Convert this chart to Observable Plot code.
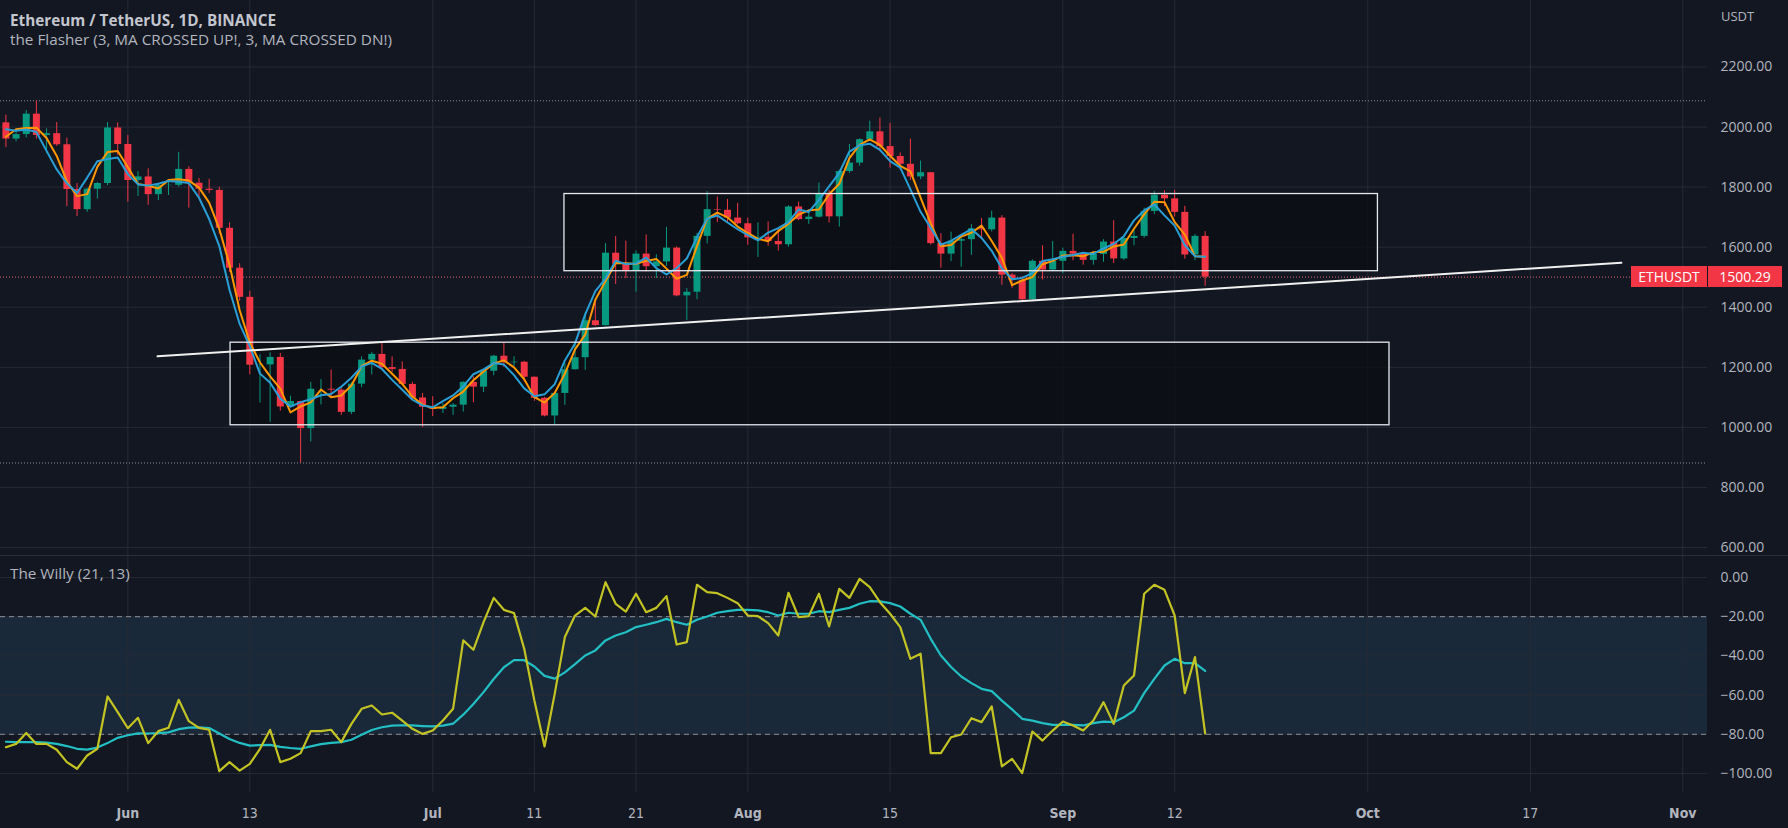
<!DOCTYPE html>
<html>
<head>
<meta charset="utf-8">
<script src="https://cdn.jsdelivr.net/npm/d3@7"></script>
<script src="https://cdn.jsdelivr.net/npm/@observablehq/plot@0.6"></script>
<style>
  html, body { margin: 0; padding: 0; background: #131722; }
  #wrap { position: relative; width: 1788px; height: 828px; overflow: hidden; background: #131722; font-family: "Open Sans", "Noto Sans", sans-serif; }
  .abs { position: absolute; white-space: nowrap; }
  #title { left: 10px; top: 10px; font-size: 15.3px; line-height: 21px; font-weight: bold; color: #c3c6ce; }
  #subtitle { left: 10px; top: 29px; font-size: 15.3px; line-height: 21px; color: #b2b5be; }
  #oscTitle { left: 10px; top: 563px; font-size: 15.3px; line-height: 20px; color: #b2b5be; }
  #unit { left: 1721px; top: 7px; font-size: 13px; line-height: 18px; color: #b2b5be; }
  .tag { background: #f23645; color: #ffffff; font-size: 14px; line-height: 21px; height: 21px; text-align: center; }
  #sep { left: 0; top: 555px; width: 1788px; height: 1px; background: #2a2e39; }
</style>
</head>
<body>
<div id="wrap">
  <div id="pricePane" class="abs" style="left:0;top:0;"></div>
  <div id="oscPane" class="abs" style="left:0;top:555px;"></div>
  <div id="sep" class="abs"></div>
  <div id="title" class="abs">Ethereum / TetherUS, 1D, BINANCE</div>
  <div id="subtitle" class="abs">the Flasher (3, MA CROSSED UP!, 3, MA CROSSED DN!)</div>
  <div id="oscTitle" class="abs">The Willy (21, 13)</div>
  <div id="unit" class="abs">USDT</div>
</div>
<script>
// ---------- data ----------
const firstDay = "2022-05-20";
const lastDay = "2022-09-15";

const open = [2014,1960,1975,2043,1972,1978,1941,1792,1725,1793,1812,1997,1942,1822,1834,1775,1805,1806,1859,1813,
1793,1789,1663,1530,1433,1207,1208,1233,1068,1086,996,1127,1127,1124,1050,1144,1224,1243,1199,1193,
1143,1098,1067,1060,1067,1074,1150,1134,1187,1237,1215,1217,1167,1097,1038,1113,1192,1232,1355,1339,
1580,1542,1521,1577,1535,1551,1597,1438,1450,1636,1725,1723,1697,1678,1631,1633,1619,1608,1734,1692,
1700,1776,1701,1852,1880,1958,1984,1935,1902,1876,1834,1848,1612,1577,1620,1625,1661,1658,1697,1507,
1489,1425,1553,1524,1553,1586,1577,1556,1576,1617,1561,1629,1636,1719,1773,1761,1716,1574,1636];
const high = [2040,1986,2055,2087,1994,2015,1963,1812,1796,1815,2015,2014,1972,1852,1861,1808,1818,1916,1868,1829,
1826,1800,1681,1545,1453,1242,1248,1246,1104,1087,1150,1159,1191,1132,1150,1235,1250,1280,1235,1218,
1150,1113,1102,1079,1079,1152,1168,1192,1240,1280,1235,1220,1168,1100,1114,1214,1280,1380,1422,1612,
1636,1620,1588,1641,1575,1666,1601,1462,1646,1785,1767,1759,1746,1697,1681,1684,1663,1738,1750,1724,
1813,1789,1857,1942,1961,2020,2030,2012,1914,1960,1887,1848,1645,1650,1631,1675,1696,1720,1705,1512,
1502,1558,1605,1619,1597,1643,1581,1578,1625,1688,1640,1657,1730,1785,1788,1789,1736,1642,1652];
const low = [1932,1951,1964,1960,1912,1936,1735,1702,1716,1760,1805,1906,1750,1769,1740,1755,1772,1800,1730,1762,
1779,1643,1516,1420,1175,1081,1017,1054,1064,881,951,1075,1097,1040,1043,1132,1175,1192,1183,1140,
1090,1000,1036,1046,1040,1051,1082,1116,1172,1200,1204,1152,1087,1035,1006,1073,1191,1190,1336,1337,
1476,1496,1450,1518,1496,1536,1435,1356,1425,1611,1682,1682,1675,1606,1566,1603,1587,1600,1688,1676,
1697,1681,1667,1846,1870,1958,1918,1863,1857,1822,1825,1607,1530,1552,1533,1573,1632,1651,1473,1463,
1423,1423,1491,1519,1512,1555,1540,1540,1550,1546,1556,1605,1630,1708,1735,1700,1560,1555,1470];
const close = [1960,1975,2043,1972,1978,1941,1792,1725,1793,1812,1997,1942,1822,1834,1775,1805,1806,1859,1813,1793,
1789,1663,1530,1433,1207,1208,1233,1068,1086,996,1127,1127,1124,1050,1144,1224,1243,1199,1193,1143,
1098,1067,1060,1067,1074,1150,1134,1187,1237,1215,1217,1167,1097,1038,1113,1192,1232,1355,1339,1580,
1542,1521,1577,1535,1551,1597,1438,1450,1636,1725,1723,1697,1678,1631,1633,1619,1608,1734,1692,1700,
1776,1701,1852,1880,1958,1984,1935,1902,1876,1834,1848,1612,1577,1620,1625,1661,1658,1697,1507,1489,
1425,1553,1524,1553,1586,1577,1556,1576,1617,1561,1629,1636,1719,1773,1761,1716,1574,1636,1500.29];

const willy = [-86.6,-84.9,-79.3,-84.9,-84.9,-87.9,-94.2,-97.6,-90.8,-87.4,-60.7,-68.7,-76.9,-71.6,-84.5,-78.4,-76.7,-62.4,-73.3,-76.7,
-77.7,-98.8,-94.2,-98.5,-95.1,-87.4,-77.7,-94.2,-92.5,-89.6,-78.4,-78.4,-77.7,-84.0,-74.7,-67.0,-65.3,-69.9,-69.0,-73.0,
-77.2,-79.8,-78.1,-73.0,-67.0,-32.1,-36.9,-22.8,-10.4,-16.5,-18.2,-36.4,-62.8,-86.2,-59.4,-30.4,-19.4,-15.5,-19.9,-2.4,
-13.4,-17.4,-8.3,-17.7,-15.5,-9.5,-34.2,-33.0,-3.7,-7.5,-8.0,-10.4,-13.1,-19.4,-19.7,-23.3,-29.6,-7.8,-20.2,-19.7,
-8.3,-25.0,-5.8,-10.4,-0.7,-4.9,-12.6,-18.5,-25.3,-41.5,-38.9,-89.6,-89.6,-81.5,-80.1,-71.8,-73.8,-65.8,-96.4,-92.5,
-99.8,-78.6,-83.2,-78.1,-73.5,-75.5,-78.1,-73.0,-63.6,-74.7,-55.1,-50.0,-8.3,-3.7,-6.3,-19.4,-59.0,-40.6,-79.6];
const willySignal = [-83.8,-84.0,-84.0,-84.0,-84.3,-84.9,-86.0,-87.4,-87.8,-86.8,-84.5,-81.8,-80.5,-79.5,-79.6,-79.4,-79.0,-77.4,-76.6,-76.5,
-76.8,-79.6,-82.4,-84.4,-85.8,-85.5,-85.4,-86.4,-87.0,-87.4,-86.2,-85.0,-84.4,-84.0,-82.8,-80.2,-77.8,-76.4,-75.6,-75.4,
-75.5,-75.8,-76.0,-75.6,-74.6,-70.0,-64.5,-58.5,-51.8,-45.8,-42.2,-42.2,-45.4,-50.2,-51.6,-48.4,-44.2,-39.8,-37.2,-32.1,
-29.6,-27.9,-25.3,-24.1,-22.8,-21.1,-22.8,-24.1,-21.6,-19.9,-18.0,-17.2,-16.5,-16.5,-16.8,-17.7,-19.4,-18.0,-18.5,-18.5,
-17.2,-17.7,-16.5,-15.5,-13.4,-12.1,-12.2,-13.1,-14.8,-18.5,-21.6,-31.3,-39.8,-45.7,-50.5,-53.9,-56.8,-58.0,-62.8,-67.3,
-72.1,-73.0,-74.3,-75.2,-75.2,-75.2,-75.5,-74.3,-73.5,-73.8,-71.3,-67.9,-59.0,-51.7,-44.9,-41.5,-43.7,-43.7,-47.7];

// drawings
const boxStarts = ["2022-07-13T23:00Z", "2022-06-11T02:30Z"];
const boxEnds = ["2022-10-02T00:00Z", "2022-10-03T03:20Z"];
const boxTops = [1777, 1282];
const boxBottoms = [1520, 1007];
const trendDates = ["2022-06-03T22:00Z", "2022-10-25T23:00Z"];
const trendPrices = [1236.6, 1548.5];
const rangeLines = [2087.5, 881.5];
const lastPrice = 1500.29;
const symbol = "ETHUSDT";

// axes
const priceTicks = [600, 800, 1000, 1200, 1400, 1600, 1800, 2000, 2200];
const oscTicks = [0, -20, -40, -60, -80, -100];
const oscBand = [-80, -20];
const xTickDates = ["2022-06-01","2022-06-13","2022-07-01","2022-07-11","2022-07-21","2022-08-01","2022-08-15","2022-09-01","2022-09-12","2022-10-01","2022-10-17","2022-11-01"];
const xTickLabels = ["Jun","13","Jul","11","21","Aug","15","Sep","12","Oct","17","Nov"];
const xTickIsMonth = [true,false,true,false,false,true,false,true,false,true,false,true];

// ---------- build ----------
const days = d3.utcDay.range(new Date(firstDay + "T00:00Z"), d3.utcDay.offset(new Date(lastDay + "T00:00Z"), 1));
const candles = days.map((d, i) => ({date: d, open: open[i], high: high[i], low: low[i], close: close[i], willy: willy[i], signal: willySignal[i]}));
const boxes = boxStarts.map((s, i) => ({x1: new Date(s), x2: new Date(boxEnds[i]), y1: boxBottoms[i], y2: boxTops[i]}));
const trend = trendDates.map((d, i) => ({date: new Date(d), price: trendPrices[i]}));
const ticksX = xTickDates.map((d, i) => ({date: new Date(d + "T00:00Z"), label: xTickLabels[i], month: xTickIsMonth[i]}));

const xDomain = [new Date("2022-05-19T11:15Z"), new Date("2022-11-03T10:19Z")];
const UP = "#089981", DOWN = "#f23645";
const colorOf = d => d.close >= d.open ? UP : DOWN;
const gridColor = "#262a35";
const textColor = "#b2b5be";

const pricePlot = Plot.plot({
  width: 1788, height: 555,
  marginLeft: 0, marginRight: 81, marginTop: 0, marginBottom: 0,
  style: {background: "transparent", color: textColor, fontFamily: "'Open Sans', sans-serif", fontSize: "14px", overflow: "visible"},
  x: {type: "utc", domain: xDomain, axis: null},
  y: {type: "linear", domain: [573.4, 2421.4], axis: null},
  marks: [
    Plot.gridY({ticks: priceTicks, stroke: gridColor, strokeOpacity: 1}),
    Plot.gridX({ticks: ticksX.map(d => d.date), stroke: gridColor, strokeOpacity: 1}),
    Plot.ruleY(rangeLines, {stroke: "#8d9099", strokeDasharray: "1,2", strokeWidth: 1}),
    Plot.ruleY([lastPrice], {stroke: "#e06470", strokeDasharray: "1,2", strokeWidth: 1}),
    Plot.rect(boxes, {x1: "x1", x2: "x2", y1: "y1", y2: "y2", fill: "#0b0d12", fillOpacity: 0.75}),
    Plot.ruleX(candles, {x: "date", y1: "low", y2: "high", stroke: colorOf, strokeWidth: 1}),
    Plot.ruleX(candles, {x: "date", y1: "open", y2: "close", stroke: colorOf, strokeWidth: 7}),
    Plot.lineY(candles, Plot.windowY({k: 3, anchor: "middle", reduce: "mean"}, {x: "date", y: "close", stroke: "#ff9800", strokeWidth: 2})),
    Plot.lineY(candles, Plot.windowY({k: 4, anchor: "middle", reduce: "mean"}, {x: "date", y: "close", stroke: "#2a9fd6", strokeWidth: 2})),
    Plot.rect(boxes, {x1: "x1", x2: "x2", y1: "y1", y2: "y2", fill: "none", stroke: "#e6e8ee", strokeWidth: 1.3}),
    Plot.line(trend, {x: "date", y: "price", stroke: "#f0f0f0", strokeWidth: 2}),
    Plot.axisY({anchor: "right", ticks: priceTicks, tickFormat: d3.format(".2f"), tickSize: 0, tickPadding: 13, fontSize: 14, fill: textColor, label: null})
  ]
});
document.getElementById("pricePane").appendChild(pricePlot);

const oscPlot = Plot.plot({
  width: 1788, height: 273,
  marginLeft: 0, marginRight: 81, marginTop: 0, marginBottom: 36,
  style: {background: "transparent", color: textColor, fontFamily: "'Open Sans', sans-serif", fontSize: "14px", overflow: "visible"},
  x: {type: "utc", domain: xDomain, axis: null},
  y: {type: "linear", domain: [-109.7, 11.22], axis: null},
  marks: [
    Plot.rect([oscBand], {x1: () => xDomain[0], x2: () => xDomain[1], y1: d => d[0], y2: d => d[1], fill: "#1a2939"}),
    Plot.gridY({ticks: oscTicks, stroke: gridColor, strokeOpacity: 1}),
    Plot.gridX({ticks: ticksX.map(d => d.date), stroke: gridColor, strokeOpacity: 1}),
    Plot.ruleY(oscBand, {stroke: "#8d9099", strokeDasharray: "5,4", strokeWidth: 1}),
    Plot.lineY(candles, {x: "date", y: "signal", stroke: "#22bfc4", strokeWidth: 2.2}),
    Plot.lineY(candles, {x: "date", y: "willy", stroke: "#c3c424", strokeWidth: 2.2}),
    Plot.axisY({anchor: "right", ticks: oscTicks, tickFormat: d3.format(".2f"), tickSize: 0, tickPadding: 13, fontSize: 14, fill: textColor, label: null}),
    Plot.text(ticksX.filter(d => d.month), {x: "date", text: "label", frameAnchor: "bottom", dy: 25, fontSize: 14, fontWeight: "bold", fill: textColor, fontFamily: "'Liberation Sans Narrow', 'DejaVu Sans Condensed', sans-serif"}),
    Plot.text(ticksX.filter(d => !d.month), {x: "date", text: "label", frameAnchor: "bottom", dy: 25, fontSize: 14, fill: textColor, fontFamily: "'Liberation Sans Narrow', 'DejaVu Sans Condensed', sans-serif"})
  ]
});
document.getElementById("oscPane").appendChild(oscPlot);

// last price tags, positioned with the price scale
const yPx = pricePlot.scale("y").apply(lastPrice);
const wrap = document.getElementById("wrap");
const tag1 = document.createElement("div");
tag1.className = "abs tag";
tag1.style.cssText = `left:1631px;width:76px;top:${yPx - 10.5}px;`;
tag1.textContent = symbol;
wrap.appendChild(tag1);
const tag2 = document.createElement("div");
tag2.className = "abs tag";
tag2.style.cssText = `left:1708px;width:74px;top:${yPx - 10.5}px;`;
tag2.textContent = d3.format(".2f")(lastPrice);
wrap.appendChild(tag2);
</script>
</body>
</html>
